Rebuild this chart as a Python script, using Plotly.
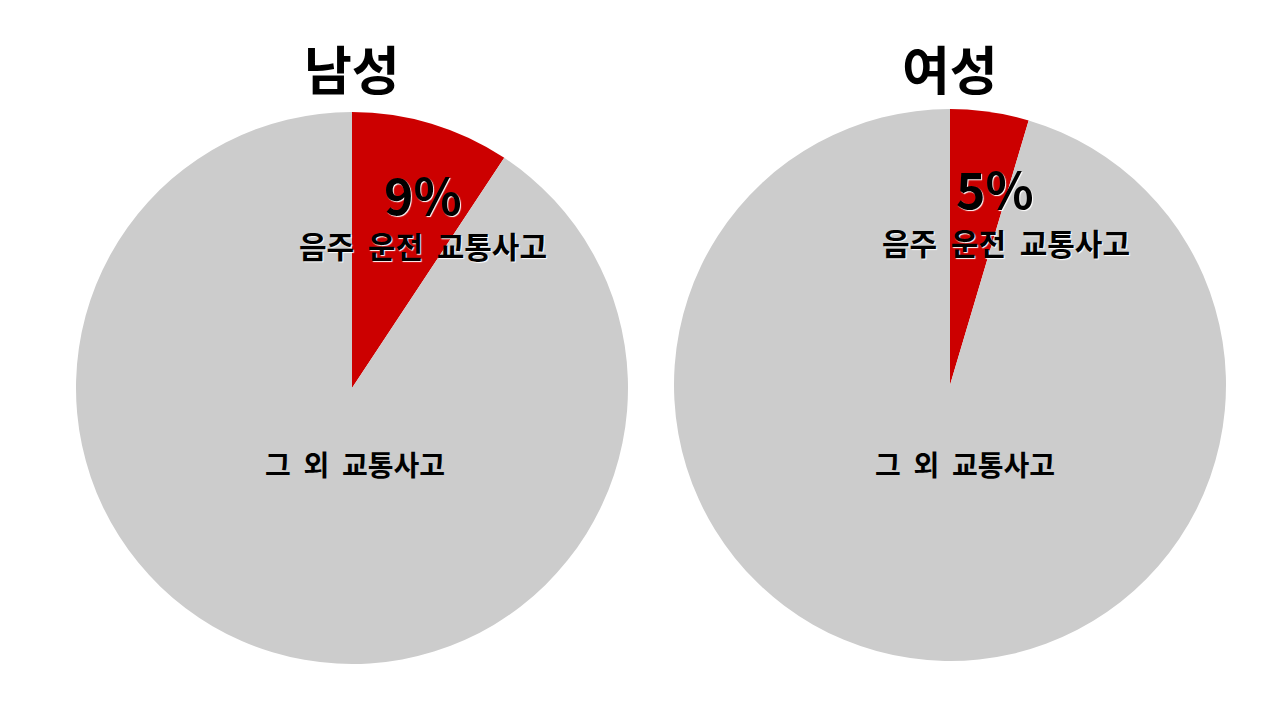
import plotly.graph_objects as go

# Data
groups = ['남성', '여성']
labels = ['음주 운전 교통사고', '그 외 교통사고']
male_values = [9.3, 90.7]
female_values = [4.6, 95.4]

colors = ['#CC0000', '#CCCCCC']
font_family = 'Noto Sans CJK KR'
W, H = 1280, 720
OFF = 8  # page body margin

fig = go.Figure()

# pie domains (pixel centre / radius)
pies = [
    dict(values=male_values, cx=352, cy=388, r=276,
         pct_xy=(423, 193), lab_xy=(423, 245), other_xy=(355, 464)),
    dict(values=female_values, cx=950, cy=385, r=276,
         pct_xy=(995, 187), lab_xy=(1006, 242), other_xy=(965, 464)),
]


def px(x, y):
    return (x - OFF) / W, 1 - (y - OFF) / H


annotations = []
for name, p in zip(groups, pies):
    x0, y1 = px(p['cx'] - p['r'], p['cy'] - p['r'])
    x1, y0 = px(p['cx'] + p['r'], p['cy'] + p['r'])
    fig.add_trace(go.Pie(
        labels=labels,
        values=p['values'],
        domain=dict(x=[x0, x1], y=[y0, y1]),
        marker=dict(colors=colors, line=dict(width=0)),
        sort=False,
        direction='clockwise',
        rotation=0,
        textinfo='none',
        hoverinfo='label+percent',
        showlegend=False,
        name=name,
    ))

    # title
    x, y = px(p['cx'], 67)
    annotations.append(dict(x=x, y=y, text='<b>%s</b>' % name,
                            font=dict(size=52, color='black', family=font_family)))
    # percent
    x, y = px(*p['pct_xy'])
    pct = round(p['values'][0] / sum(p['values']) * 100)
    annotations.append(dict(x=x, y=y, text='<b>%d%%</b>' % pct,
                            font=dict(size=50, color='black', family=font_family,
                                      shadow='1px 1px 1px white')))
    # label of red slice
    x, y = px(*p['lab_xy'])
    annotations.append(dict(x=x, y=y, text='<b>%s</b>' % labels[0].replace(' ', '&nbsp;&nbsp;'),
                            font=dict(size=30, color='black', family=font_family,
                                      shadow='1px 1px 1px white')))
    # label of gray slice
    x, y = px(*p['other_xy'])
    annotations.append(dict(x=x, y=y, text='<b>%s</b>' % labels[1].replace(' ', '&nbsp;&nbsp;'),
                            font=dict(size=28, color='black', family=font_family)))

for a in annotations:
    a.update(xref='paper', yref='paper', showarrow=False, xanchor='center', yanchor='middle')

fig.update_layout(
    width=W,
    height=H,
    margin=dict(l=0, r=0, t=0, b=0),
    paper_bgcolor='white',
    plot_bgcolor='white',
    annotations=annotations,
)

fig.write_html("out.html")
